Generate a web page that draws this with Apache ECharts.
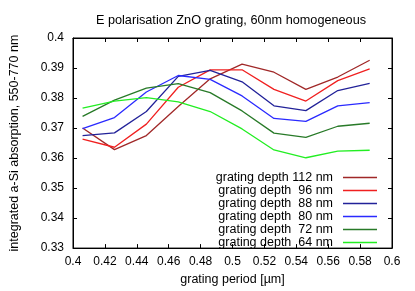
<!DOCTYPE html>
<html>
<head>
<meta charset="utf-8">
<script src="https://cdn.jsdelivr.net/npm/echarts@6/dist/echarts.min.js"></script>
<style>html,body{margin:0;padding:0;background:#fff}#c{width:415px;height:291px}</style>
</head>
<body>
<div id="c"></div>
<script>
var periods = [0.406, 0.426, 0.446, 0.466, 0.486, 0.506, 0.526, 0.546, 0.566, 0.586];
var depth112 = [0.3700, 0.3628, 0.3675, 0.3772, 0.3864, 0.3913, 0.3886, 0.3829, 0.3870, 0.3926];
var depth96  = [0.3663, 0.3636, 0.3713, 0.3836, 0.3894, 0.3894, 0.3829, 0.3790, 0.3858, 0.3897];
var depth88  = [0.3675, 0.3684, 0.3755, 0.3872, 0.3892, 0.3854, 0.3774, 0.3758, 0.3825, 0.3849];
var depth80  = [0.3698, 0.3735, 0.3820, 0.3875, 0.3862, 0.3807, 0.3732, 0.3722, 0.3774, 0.3785];
var depth72  = [0.3739, 0.3793, 0.3833, 0.3848, 0.3818, 0.3757, 0.3683, 0.3669, 0.3706, 0.3716];
var depth64  = [0.3766, 0.3790, 0.3801, 0.3787, 0.3755, 0.3697, 0.3627, 0.3601, 0.3623, 0.3626];
var seriesNames = ['grating depth 112 nm', 'grating depth  96 nm', 'grating depth  88 nm', 'grating depth  80 nm', 'grating depth  72 nm', 'grating depth  64 nm'];
var seriesData = [depth112, depth96, depth88, depth80, depth72, depth64];
var colors = ['#a02828', '#f02020', '#222299', '#2a2aff', '#287a28', '#22ee22'];

var font = 'Liberation Sans, Arial, sans-serif';
function pairs(vals) { return periods.map(function (p, i) { return [p, vals[i]]; }); }

var series = seriesNames.map(function (n, i) {
  return {
    name: n, type: 'line', data: pairs(seriesData[i]), symbol: 'none', showSymbol: false,
    lineStyle: { color: colors[i], width: 1.3 }, itemStyle: { color: colors[i] },
    animation: false, xAxisIndex: 0, yAxisIndex: 0
  };
});

var chart = echarts.init(document.getElementById('c'), null, { renderer: 'canvas' });
chart.setOption({
  backgroundColor: '#fff',
  animation: false,
  title: {
    text: 'E polarisation ZnO grating, 60nm homogeneous',
    left: 226, top: 9, textAlign: 'center',
    textStyle: { fontFamily: font, fontSize: 12.7, fontWeight: 'normal', color: '#000' }
  },
  grid: { left: 70, right: 23, top: 38, bottom: 42, show: true, borderColor: '#000', borderWidth: 1 },
  legend: {
    orient: 'vertical', align: 'right', right: 38, top: 171, padding: 0,
    icon: 'rect', itemWidth: 34, itemHeight: 1.3, itemGap: 0,
    textStyle: { fontFamily: font, fontSize: 12.5, color: '#000', lineHeight: 11.7, padding: [0, 5, 0, 0] },
    data: seriesNames
  },
  xAxis: [{
    type: 'value', min: 0.4, max: 0.6, interval: 0.02,
    name: 'grating period [µm]', nameLocation: 'middle', nameGap: 23,
    nameTextStyle: { fontFamily: font, fontSize: 12.5, color: '#000' },
    axisLine: { show: true, lineStyle: { color: '#000' } },
    axisTick: { show: true, inside: true, length: 4, lineStyle: { color: '#000' } },
    axisLabel: { fontFamily: font, fontSize: 12, color: '#000', margin: 8 },
    splitLine: { show: false }
  }, {
    type: 'value', position: 'top', min: 0.4, max: 0.6, interval: 0.02,
    axisLine: { show: true, lineStyle: { color: '#000' } },
    axisTick: { show: true, inside: true, length: 4, lineStyle: { color: '#000' } },
    axisLabel: { show: false }, splitLine: { show: false }
  }],
  yAxis: [{
    type: 'value', min: 0.33, max: 0.4, interval: 0.01,
    name: 'integrated a-Si absorption, 550-770 nm', nameLocation: 'middle', nameGap: 52,
    nameTextStyle: { fontFamily: font, fontSize: 12.5, color: '#000' },
    axisLine: { show: true, lineStyle: { color: '#000' } },
    axisTick: { show: true, inside: true, length: 4, lineStyle: { color: '#000' } },
    axisLabel: { fontFamily: font, fontSize: 12, color: '#000', margin: 9 },
    splitLine: { show: false }
  }, {
    type: 'value', position: 'right', min: 0.33, max: 0.4, interval: 0.01,
    axisLine: { show: true, lineStyle: { color: '#000' } },
    axisTick: { show: true, inside: true, length: 4, lineStyle: { color: '#000' } },
    axisLabel: { show: false }, splitLine: { show: false }
  }],
  series: series
});
</script>
</body>
</html>
